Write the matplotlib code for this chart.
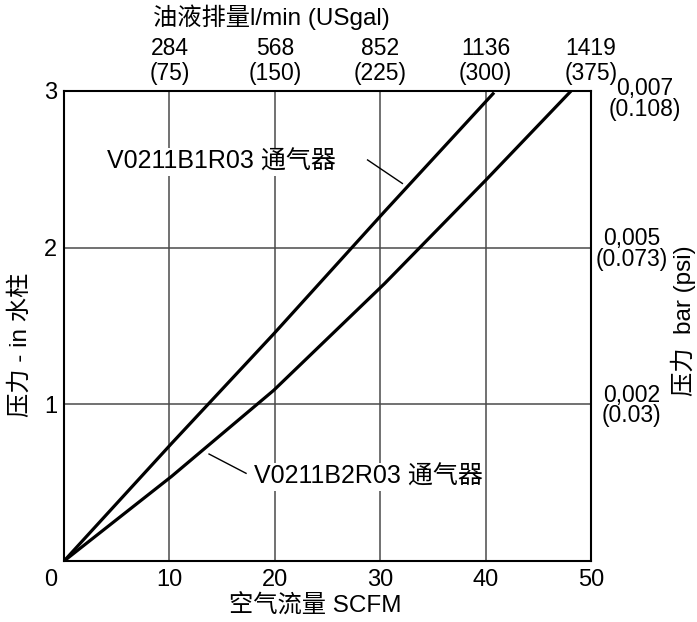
import matplotlib
matplotlib.use("Agg")
import matplotlib.pyplot as plt
from matplotlib.transforms import ScaledTranslation

plt.rcParams['font.family'] = ['Liberation Sans', 'Noto Sans CJK SC', 'DejaVu Sans']

# Data
b1_x = [0, 10.2, 19.9, 30.4, 40.8]
b1_y = [0, 0.75, 1.45, 2.23, 2.99]
b2_x = [0, 10.2, 19.9, 30.4, 40.0, 48.1]
b2_y = [0, 0.54, 1.09, 1.77, 2.43, 3.0]

x_ticks = [10, 20, 30, 40, 50]
x_labels = ['10', '20', '30', '40', '50']
top_labels = ['284\n(75)', '568\n(150)', '852\n(225)', '1136\n(300)', '1419\n(375)']
y_ticks = [1, 2, 3]
y_labels = ['1', '2', '3']
right_labels = ['0,002\n(0.03)', '0,005\n(0.073)', '0,007\n(0.108)']

label_b1 = 'V0211B1R03 通气器'
label_b2 = 'V0211B2R03 通气器'

fs = 18
tfs = 16.5

fig = plt.figure(figsize=(6.97, 6.22), dpi=100)
ax = fig.add_axes([0.0918, 0.098, 0.848 - 0.0918, 0.8537 - 0.098])
ax.set_xlim(0, 50)
ax.set_ylim(0, 3)

for v in [10, 20, 30, 40]:
    ax.axvline(v, color='#4a4a4a', lw=1.1, zorder=1)
for v in [1, 2]:
    ax.axhline(v, color='#4a4a4a', lw=1.1, zorder=1)

ax.plot(b1_x, b1_y, color='black', lw=2.3, zorder=3, solid_capstyle='butt')
ax.plot(b2_x, b2_y, color='black', lw=2.3, zorder=3, solid_capstyle='butt')

for s in ax.spines.values():
    s.set_linewidth(1.5)
    s.set_color('black')

ax.set_xticks(x_ticks)
ax.set_xticklabels(x_labels, fontsize=17)
ax.set_yticks(y_ticks)
ax.set_yticklabels(y_labels, fontsize=17)
ax.tick_params(axis='x', length=0, pad=6)
ax.tick_params(axis='y', length=0, pad=5)
ax.text(-0.013, -0.016, '0', transform=ax.transAxes, fontsize=17,
        ha='right', va='top')

ax_top = ax.twiny()
ax_top.set_xlim(ax.get_xlim())
ax_top.set_xticks(x_ticks)
ax_top.set_xticklabels(top_labels, fontsize=tfs, linespacing=1.12)
ax_top.tick_params(axis='x', length=0, pad=4)

ax_r = ax.twinx()
ax_r.set_ylim(ax.get_ylim())
ax_r.set_yticks(y_ticks)
ax_r.set_yticklabels(right_labels, fontsize=tfs, linespacing=0.86, ha='center')
ax_r.tick_params(axis='y', length=0, pad=29)
top_lab = ax_r.get_yticklabels()[2]
top_lab.set_transform(top_lab.get_transform() +
                      ScaledTranslation(0.13, -0.07, fig.dpi_scale_trans))
for a in (ax_top, ax_r):
    for s in a.spines.values():
        s.set_visible(False)

fig.text(0.452, 0.026, '空气流量 SCFM', fontsize=17.5, ha='center', va='center')
fig.text(0.389, 0.973, '油液排量l/min (USgal)', fontsize=17.5, ha='center', va='center')
fig.text(0.029, 0.445, '压力 - in 水柱', fontsize=17.5, ha='center', va='center', rotation=90)
fig.text(0.98, 0.485, '压力  bar (psi)', fontsize=17.5, ha='center', va='center', rotation=90)

bbox = dict(facecolor='white', edgecolor='none', pad=1.5)
ax.text(4.1, 2.55, label_b1, fontsize=fs, ha='left', va='center', bbox=bbox, zorder=4)
ax.text(18.0, 0.536, label_b2, fontsize=fs, ha='left', va='center', bbox=bbox, zorder=4)
ax.plot([28.8, 32.1], [2.56, 2.41], color='black', lw=1.0, zorder=3)
ax.plot([13.76, 17.27], [0.683, 0.56], color='black', lw=1.0, zorder=3)

fig.savefig('out.png', dpi=100)
